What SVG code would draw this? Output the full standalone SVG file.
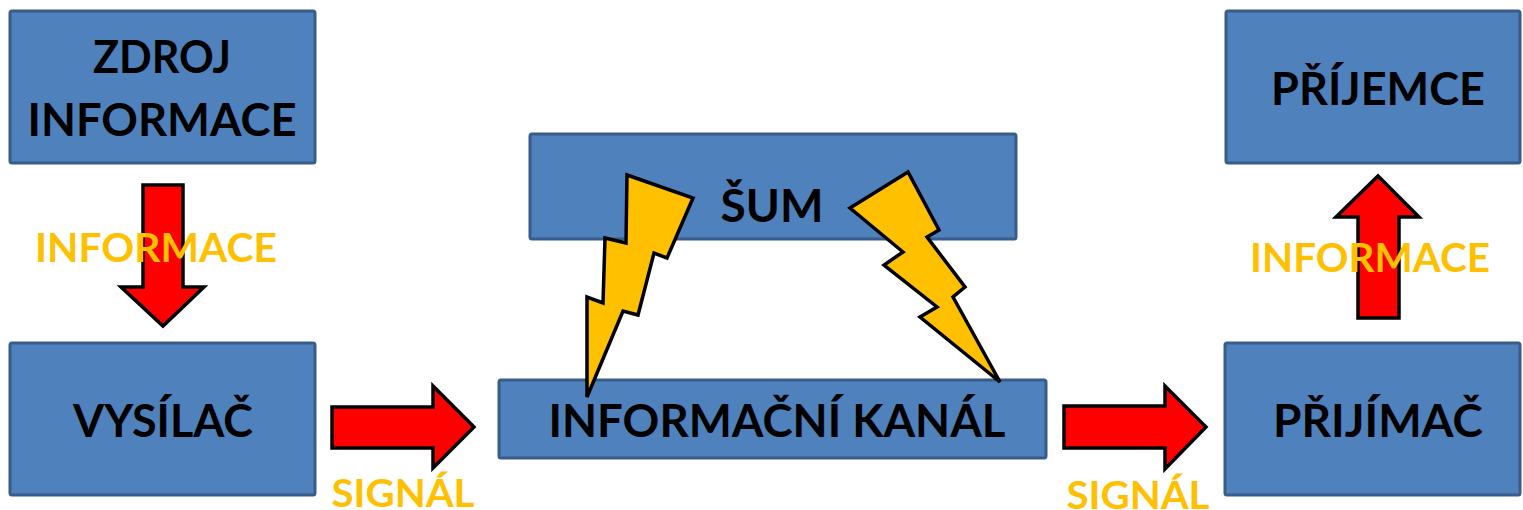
<svg xmlns="http://www.w3.org/2000/svg" width="1523" height="510" viewBox="0 0 1523 510">
<style>
.box{fill:#4f81bd;stroke:#385d8a;stroke-width:3}
.t{font-family:Lato,"Open Sans","Liberation Sans",sans-serif;font-weight:bold;font-size:45px;fill:#000;text-anchor:middle}
.lbl{font-family:Lato,"Open Sans","Liberation Sans",sans-serif;font-weight:bold;font-size:40px;fill:#ffc000;text-anchor:middle}
.sig{font-size:38px}
.arr{fill:#ff0000;stroke:#000;stroke-width:3.5;stroke-linejoin:miter}
.bolt{fill:#ffc000;stroke:#000;stroke-width:3.5;stroke-linejoin:miter}
</style>
<rect width="1523" height="510" fill="#fff"/>
<g id="zdroj">
<rect class="box" x="10" y="11" width="305" height="152" rx="2"/>
<text class="t" x="162" y="73" textLength="138" lengthAdjust="spacingAndGlyphs">ZDROJ</text>
<text class="t" x="162" y="136" textLength="269" lengthAdjust="spacingAndGlyphs">INFORMACE</text>
</g>
<g id="vysilac">
<rect class="box" x="10" y="343" width="305" height="152" rx="2"/>
<text class="t" x="163" y="437" textLength="180" lengthAdjust="spacingAndGlyphs">VYSÍLAČ</text>
</g>
<g id="sum">
<rect class="box" x="530" y="134" width="486" height="105" rx="2"/>
<text class="t" x="772" y="222" textLength="103" lengthAdjust="spacingAndGlyphs">ŠUM</text>
</g>
<g id="kanal">
<rect class="box" x="499" y="380" width="547" height="78" rx="2"/>
<text class="t" x="777" y="437" textLength="457" lengthAdjust="spacingAndGlyphs">INFORMAČNÍ KANÁL</text>
</g>
<g id="prijimac">
<rect class="box" x="1225" y="343" width="295" height="152" rx="2"/>
<text class="t" x="1378" y="437" textLength="210" lengthAdjust="spacingAndGlyphs">PŘIJÍMAČ</text>
</g>
<g id="prijemce">
<rect class="box" x="1226" y="11" width="294" height="152" rx="2"/>
<text class="t" x="1378" y="105" textLength="214" lengthAdjust="spacingAndGlyphs">PŘÍJEMCE</text>
</g>
<g id="connectors">
<path class="arr" d="M143,185 L183,185 L183,287 L204,287 L163,326 L121,287 L143,287 Z"/>
<text class="lbl" x="156" y="262" textLength="242" lengthAdjust="spacingAndGlyphs">INFORMACE</text>
<path class="arr" d="M332,407 L433,407 L433,386 L474,427 L433,468 L433,448 L332,448 Z"/>
<text class="lbl sig" x="403" y="507" textLength="143" lengthAdjust="spacingAndGlyphs">SIGNÁL</text>
<path class="arr" d="M1064,406 L1165,406 L1165,386 L1206,427 L1165,469 L1165,448 L1064,448 Z"/>
<text class="lbl sig" x="1138" y="509" textLength="143" lengthAdjust="spacingAndGlyphs">SIGNÁL</text>
<path class="arr" d="M1358,318 L1399,318 L1399,217 L1419,217 L1378,176 L1336,217 L1358,217 Z"/>
<text class="lbl" x="1370" y="272" textLength="240" lengthAdjust="spacingAndGlyphs">INFORMACE</text>
<path class="bolt" d="M627,175 L693,198 L667,258 L654,253 L638,315 L623,311 L587,397 L587,297 L603,303 L605,238 L626,243 Z"/>
<path class="bolt" d="M908,172 L850,208 L903,252 L884,265 L937,307 L920,317 L1000,382 L953,297 L965,287 L927,237 L939,230 Z"/>
</g>
</svg>
